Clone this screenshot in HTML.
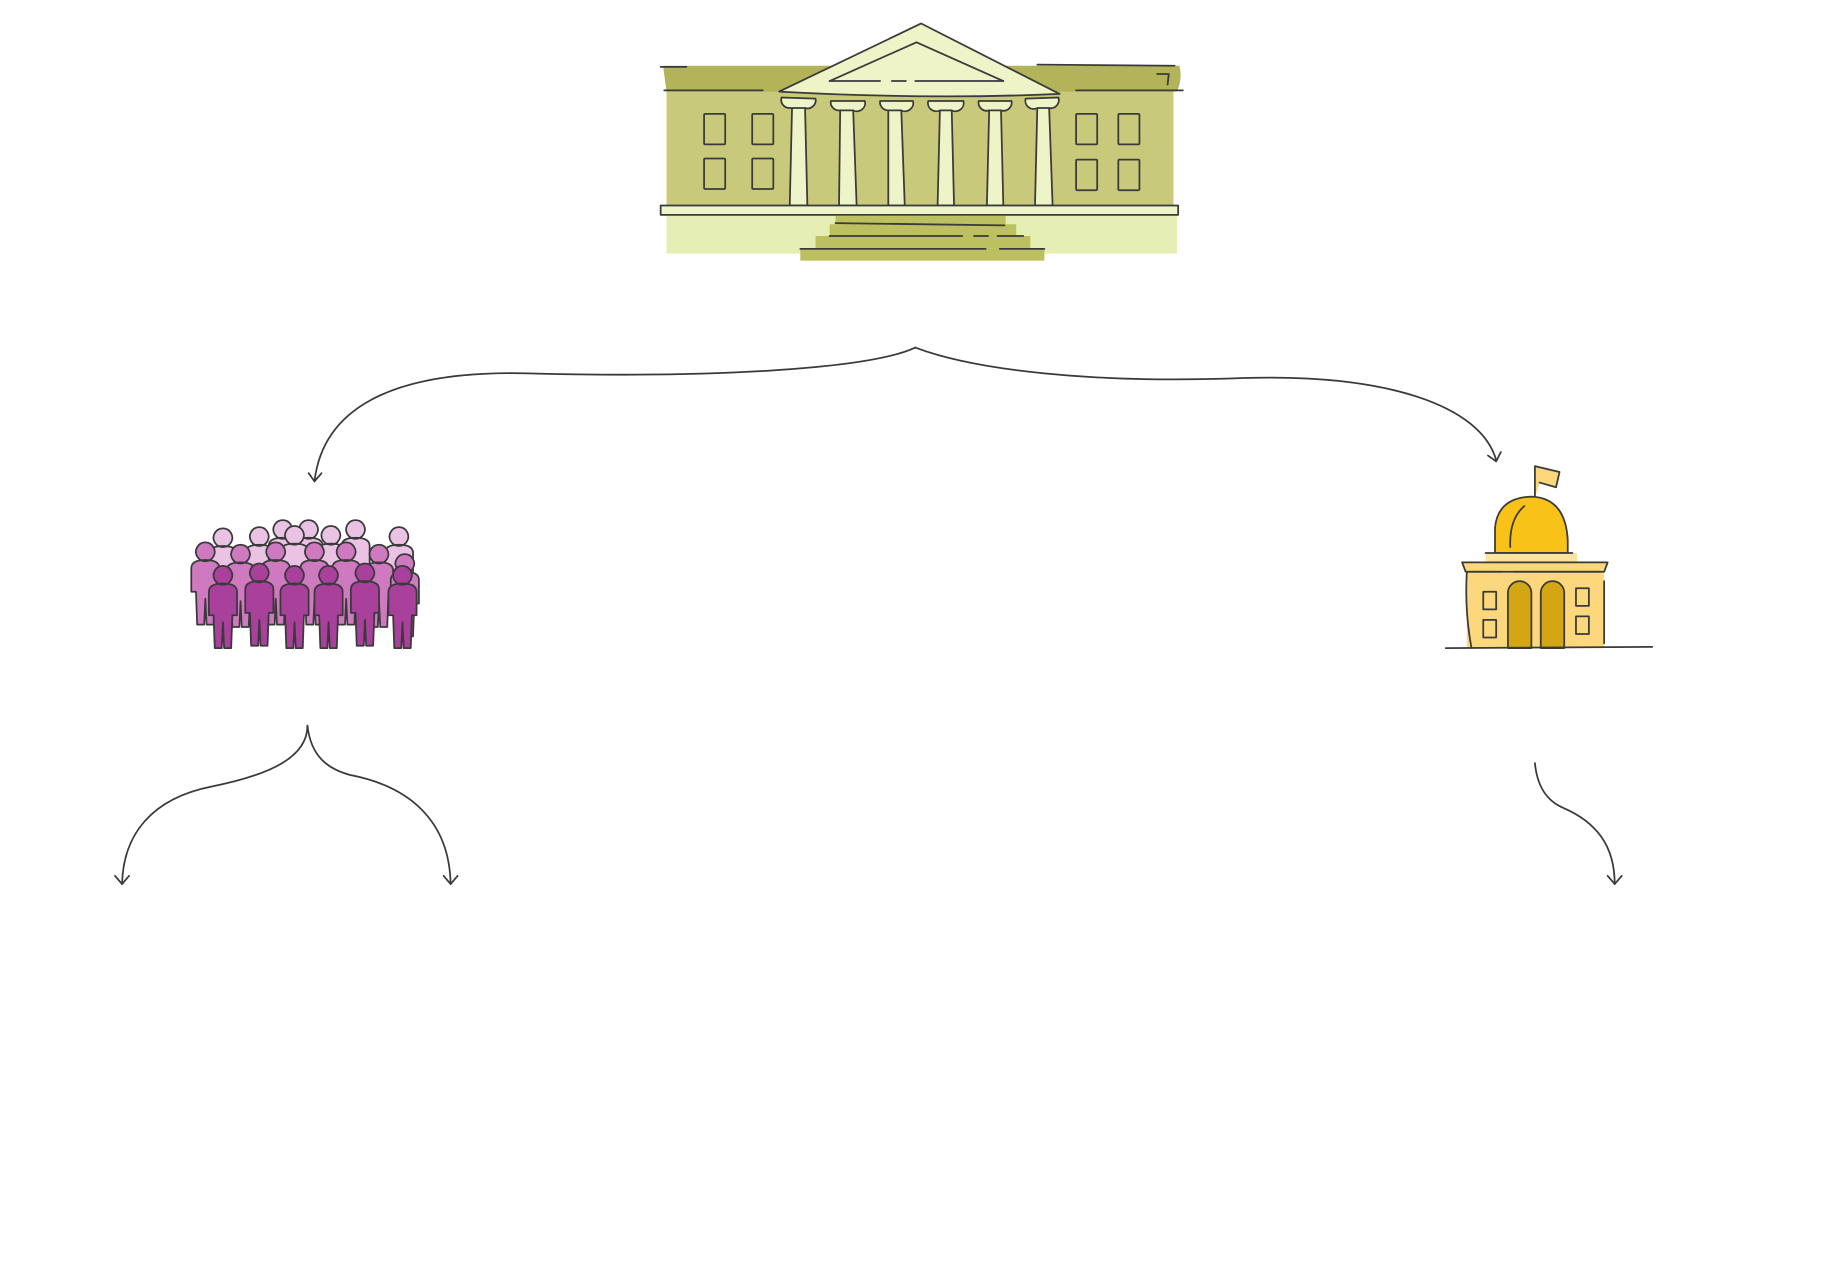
<!DOCTYPE html>
<html><head><meta charset="utf-8"><style>
html,body{margin:0;padding:0;background:#fff;}
svg{display:block;}
</style></head><body>
<svg width="1840" height="1268" viewBox="0 0 1568 1080" preserveAspectRatio="none" xmlns="http://www.w3.org/2000/svg">
<defs>
<symbol id="p" viewBox="-14 -10 28 74" overflow="visible">
<path d="M0,-8 a8,8 0 1,1 -0.1,0 Z M-12,14 Q-12,7 0,7 Q12,7 12,14 L12,34 L8,34 L7,62 L1,62 L0,40 L-1,62 L-7,62 L-8,34 L-12,34 Z"/>
</symbol>
</defs>
<g stroke="#3a3a3a" stroke-width="1.5" stroke-linejoin="round" stroke-linecap="round">
<rect x="568" y="183" width="435" height="33" fill="#e6efb3" stroke="none"/>
<rect x="568" y="76" width="432" height="100" fill="#c8c97a" stroke="none"/>
<path d="M565,56 L1005,56 Q1008,66 1003,78 L568,78 Z" fill="#b3b35a" stroke="none"/>
<path d="M566,77 L650,77 M917,77 L1008,77 M563,57 L585,57 M884,55 L1001,56 M986,63 L996,63 L995,72" fill="none"/>
<rect x="712" y="184" width="145" height="9" fill="#bcc060" stroke="none"/>
<rect x="707" y="191" width="159" height="10" fill="#bcc060" stroke="none"/>
<rect x="695" y="201" width="183" height="11" fill="#bcc060" stroke="none"/>
<rect x="682" y="212" width="208" height="10" fill="#bcc060" stroke="none"/>
<path d="M712,190 L856,192 M707,201 L820,201 M830,201 L842,201 M850,201 L872,201 M682,212 L840,212 M852,212 L890,212" fill="none"/>
<g fill="none">
<rect x="600" y="97" width="18" height="26" rx="1"/><rect x="641" y="97" width="18" height="26" rx="1"/>
<rect x="600" y="135" width="18" height="26" rx="1"/><rect x="641" y="135" width="18" height="26" rx="1"/>
<rect x="917" y="97" width="18" height="26" rx="1"/><rect x="953" y="97" width="18" height="26" rx="1"/>
<rect x="917" y="136" width="18" height="26" rx="1"/><rect x="953" y="136" width="18" height="26" rx="1"/>
</g>
<g fill="#eef3c8">
<path d="M673,175 L675,90 L686,90 L688,175 Z"/>
<path d="M715,175 L716,92 L727,92 L730,175 Z"/>
<path d="M757,175 L757,92 L768,92 L771,175 Z"/>
<path d="M799,175 L801,92 L811,92 L813,175 Z"/>
<path d="M841,175 L843,92 L853,92 L855,175 Z"/>
<path d="M882,175 L884,90 L894,90 L897,175 Z"/>
<path d="M666,83 a7,7 0 0,0 7,9 L686,92 a7,7 0 0,0 9,-8 Z"/>
<path d="M708,86 a7,7 0 0,0 8,8 L727,94 a7,7 0 0,0 10,-8 Z"/>
<path d="M750,86 a7,7 0 0,0 7,8 L768,94 a7,7 0 0,0 10,-8 Z"/>
<path d="M791,86 a7,7 0 0,0 10,8 L811,94 a7,7 0 0,0 10,-8 Z"/>
<path d="M834,86 a7,7 0 0,0 9,8 L853,94 a7,7 0 0,0 9,-8 Z"/>
<path d="M874,84 a7,7 0 0,0 10,8 L894,92 a7,7 0 0,0 8,-9 Z"/>
<path d="M664,78 L785,20 L903,80 Q790,85 664,78 Z"/>
<path d="M707,69 L781,36 L855,69" fill="none"/>
<path d="M707,69 L750,69 M760,69 L772,69 M780,69 L855,69" fill="none"/>
<rect x="563" y="175" width="441" height="8"/>
</g>
<g fill="none">
<path d="M780,296 C740,315 600,322 450,318 C330,315 275,350 268,410"/>
<path d="M263,403 L268,410 L274,403"/>
<path d="M780,296 C830,315 930,327 1060,322 C1180,318 1262,345 1275,392"/>
<path d="M1268,388 L1275,393 L1279,385"/>
<path d="M262,618 C262,645 230,660 180,670 C130,680 105,710 104,753"/>
<path d="M98,746 L104,753 L110,746"/>
<path d="M262,618 C265,645 280,655 298,660 C350,670 383,700 384,753"/>
<path d="M378,746 L384,753 L390,746"/>
<path d="M1308,650 C1310,670 1318,682 1332,688 C1360,700 1376,720 1376,753"/>
<path d="M1370,746 L1376,753 L1382,746"/>
</g>
<g fill="#eac3e4">
<use href="#p" x="176" y="448" width="28" height="74"/><use href="#p" x="207" y="447" width="28" height="74"/>
<use href="#p" x="227" y="441" width="28" height="74"/><use href="#p" x="249" y="441" width="28" height="74"/>
<use href="#p" x="268" y="446" width="28" height="74"/><use href="#p" x="289" y="441" width="28" height="74"/>
<use href="#p" x="326" y="447" width="28" height="74"/><use href="#p" x="237" y="446" width="28" height="74"/>
</g>
<g fill="#cf7ac0">
<use href="#p" x="161" y="460" width="28" height="74"/><use href="#p" x="191" y="462" width="28" height="74"/>
<use href="#p" x="221" y="460" width="28" height="74"/><use href="#p" x="254" y="460" width="28" height="74"/>
<use href="#p" x="281" y="460" width="28" height="74"/><use href="#p" x="309" y="462" width="28" height="74"/>
<use href="#p" x="331" y="470" width="28" height="74"/>
</g>
<g fill="#a8409c">
<use href="#p" x="176" y="480" width="28" height="74"/><use href="#p" x="207" y="478" width="28" height="74"/>
<use href="#p" x="237" y="480" width="28" height="74"/><use href="#p" x="266" y="480" width="28" height="74"/>
<use href="#p" x="297" y="478" width="28" height="74"/><use href="#p" x="329" y="480" width="28" height="74"/>
</g>
<path d="M1308,424 L1308,397 L1329,402 L1326,415 L1312,411" fill="#fdd77c"/>
<path d="M1274,471 L1274,450 Q1276,424 1305,423 Q1334,424 1336,460 L1336,471 Z" fill="#f9c218"/>
<path d="M1287,466 Q1286,442 1299,431" fill="none"/>
<rect x="1266" y="471" width="78" height="8" fill="#fde3a0" stroke="none"/>
<path d="M1266,471 L1340,471" fill="none"/>
<rect x="1250" y="487" width="117" height="65" fill="#fdd77c" stroke="none"/>
<path d="M1246,479 L1370,479 L1367,487 L1249,487 Z" fill="#fdd77c"/>
<path d="M1250,487 Q1248,520 1254,552 M1367,495 L1367,548" fill="none"/>
<path d="M1285,552 L1285,505 a10,10 0 0,1 20,0 L1305,552 Z" fill="#d4a614"/>
<path d="M1313,552 L1313,505 a10,10 0 0,1 20,0 L1333,552 Z" fill="#d4a614"/>
<g fill="none">
<rect x="1264" y="504" width="11" height="15"/><rect x="1264" y="528" width="11" height="15"/>
<rect x="1343" y="501" width="11" height="15"/><rect x="1343" y="525" width="11" height="15"/>
</g>
<path d="M1232,552 L1408,551" fill="none"/>
<path d="M1252,487 L1280,487 M1290,487 L1364,487" fill="none"/>
</g>
</svg>
</body></html>
